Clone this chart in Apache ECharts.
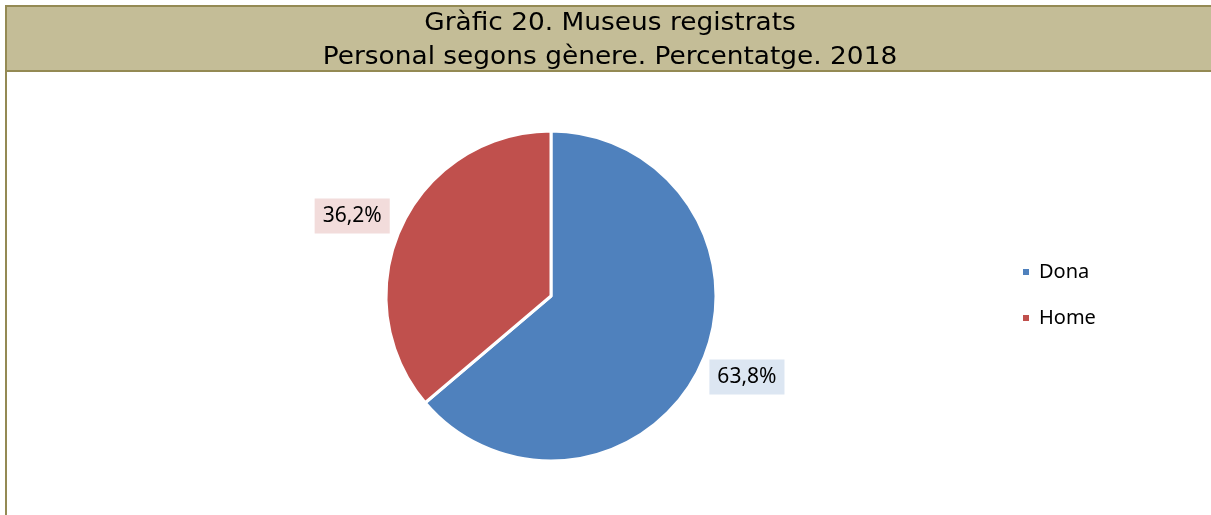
<!DOCTYPE html>
<html>
<head>
<meta charset="utf-8">
<script src="https://cdn.jsdelivr.net/npm/echarts@6/dist/echarts.min.js"></script>
<style>
  html, body { margin: 0; padding: 0; background: #fff; }
  #charts { width: 1211px; height: 515px; }
</style>
</head>
<body>
<div id="charts"></div>
<script>
// dades del gràfic
const categories = ['Dona', 'Home'];
const values = [63.8, 36.2];
const colors = ['#4F81BD', '#C0504D'];
const labelBg = ['#DCE6F2', '#F2DCDB'];

const titleLines = ['Gràfic 20. Museus registrats', 'Personal segons gènere. Percentatge. 2018'];

// petits ajustos de posició de les etiquetes
const labelShift = [[0, 10], [8, -4]];

let myChart = echarts.init(document.getElementById('charts'));

let option = {
  backgroundColor: '#fff',
  animation: false,
  graphic: [
    {
      type: 'rect',
      shape: { x: 6, y: 6, width: 1210, height: 65 },
      style: { fill: '#C4BD97', stroke: '#948A54', lineWidth: 2 }
    },
    {
      type: 'line',
      shape: { x1: 6, y1: 71, x2: 6, y2: 515 },
      style: { stroke: '#948A54', lineWidth: 2 }
    },
    {
      type: 'text',
      x: 610, y: 41,
      scaleX: 1.1,
      style: {
        text: titleLines.join('\n'),
        x: 0, y: 0,
        align: 'center', verticalAlign: 'middle',
        fontFamily: 'DejaVu Sans',
        fontSize: 24,
        lineHeight: 34,
        fill: '#000'
      }
    }
  ],
  legend: {
    orient: 'vertical',
    left: 1016,
    top: 257,
    icon: 'rect',
    itemWidth: 8,
    itemHeight: 8,
    itemGap: 26,
    textStyle: { fontFamily: 'Noto Sans', fontSize: 20, color: '#000', padding: [0, 0, 0, 4] },
    data: categories
  },
  series: [
    {
      type: 'pie',
      center: [551, 296],
      radius: 165,
      startAngle: 90,
      clockwise: true,
      itemStyle: { borderColor: '#fff', borderWidth: 3 },
      label: {
        show: true,
        position: 'outside',
        fontFamily: 'Noto Sans',
        fontSize: 21,
        color: '#000',
        padding: [7, 8, 7, 8],
        formatter: (p) => p.value.toFixed(1).replace('.', ',') + '%'
      },
      labelLine: { show: false, length: 10, length2: 0 },
      labelLayout: (params) => ({ dx: labelShift[params.dataIndex][0], dy: labelShift[params.dataIndex][1] }),
      data: categories.map((c, i) => ({
        name: c,
        value: values[i],
        itemStyle: { color: colors[i] },
        label: { backgroundColor: labelBg[i] },
        labelLine: { length: i === 0 ? 4 : 16 }
      }))
    }
  ]
};

myChart.setOption(option);
</script>
</body>
</html>
